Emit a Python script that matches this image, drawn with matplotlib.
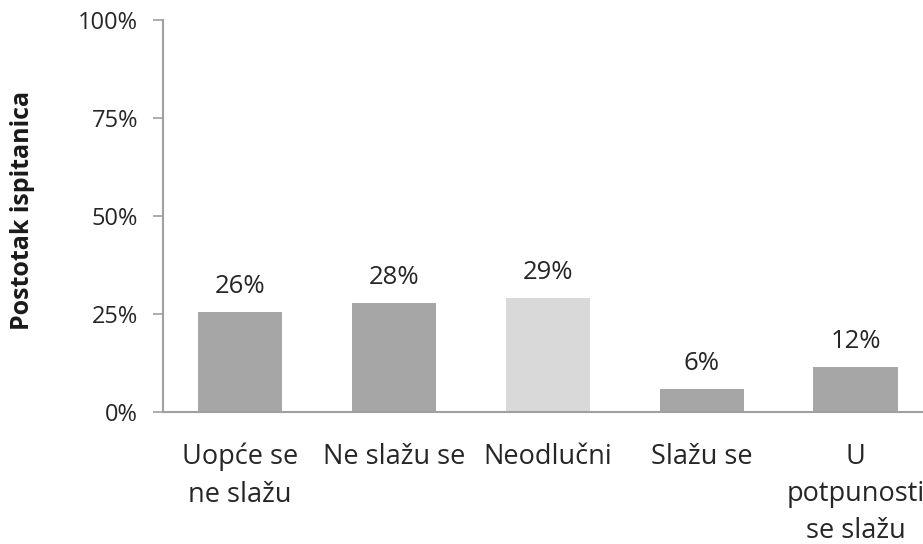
import matplotlib.pyplot as plt
from matplotlib.ticker import FuncFormatter

categories = ['Uopće se\nne slažu', 'Ne slažu se', 'Neodlučni', 'Slažu se', 'U\npotpunosti\nse slažu']
values = [25.6, 27.8, 29.2, 5.9, 11.6]
labels = ['26%', '28%', '29%', '6%', '12%']
colors = ['#a6a6a6', '#a6a6a6', '#d9d9d9', '#a6a6a6', '#a6a6a6']

plt.rcParams['font.family'] = ['Open Sans', 'DejaVu Sans']

fig = plt.figure(figsize=(9.23, 5.44), dpi=100)
ax = fig.add_axes([0.1766, 0.2426, 0.834, 0.7206])

x = range(len(categories))
ax.bar(x, values, width=0.55, color=colors)
for i, (v, t) in enumerate(zip(values, labels)):
    ax.text(i, v + 3.3, t, ha='center', va='bottom', fontsize=18.5, color='#262626')

ax.set_xlim(-0.5, 4.5)
ax.set_ylim(0, 100)
ax.set_yticks([0, 25, 50, 75, 100])
ax.yaxis.set_major_formatter(FuncFormatter(lambda v, p: f'{v:.0f}%'))
ax.set_xticks(list(x))
ax.set_xticklabels(categories, fontsize=19.5, color='#262626', linespacing=1.45, va='top')
ax.tick_params(axis='y', labelsize=17, colors='#262626', length=7, width=1.2, color='#a0a0a0', pad=11)
ax.tick_params(axis='x', length=0, pad=22)
for s in ['top', 'right']:
    ax.spines[s].set_visible(False)
for s in ['left', 'bottom']:
    ax.spines[s].set_color('#a0a0a0')
    ax.spines[s].set_linewidth(1.5)
ax.set_ylabel('Postotak ispitanica', fontsize=18, fontweight='bold', color='#1a1a1a')
ax.yaxis.set_label_coords(-0.166, 0.514)

fig.savefig('out.png', dpi=100)
